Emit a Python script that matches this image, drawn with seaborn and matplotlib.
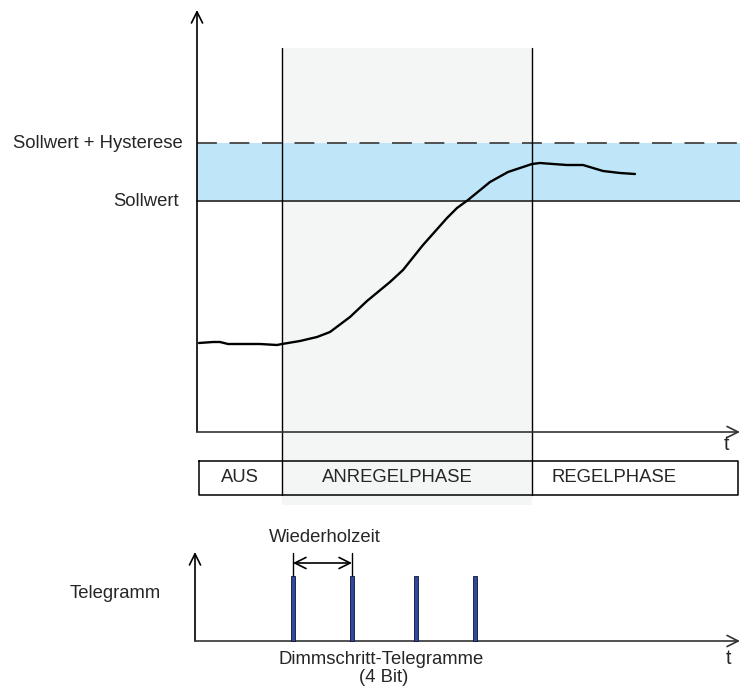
import matplotlib
matplotlib.use("Agg")
import matplotlib.pyplot as plt
import seaborn as sns
import numpy as np

sns.set_theme(style="white")
plt.rcParams['font.family'] = ['Liberation Sans', 'DejaVu Sans']

# all positions in drawing units (x = time, y = level measured downward)
curve_t = [199, 213, 220, 228, 240, 260, 277, 282, 300, 317, 330, 350, 367, 390,
           403, 423, 447, 457, 468, 490, 508, 532, 540, 553, 567, 583, 603, 620, 635]
curve_v = [343, 342, 342, 344, 344, 344, 345, 344, 341, 337, 332, 317, 301, 282,
           270, 245, 218, 208, 200, 182, 172, 164, 163, 164, 165, 165, 171, 173, 174]

setpoint = 201
setpoint_hyst = 143
phase_edges = [199, 282, 532, 738]
phase_names = ["AUS", "ANREGELPHASE", "REGELPHASE"]
phase_label_x = [240, 397, 614]
telegram_t = [293, 352, 416, 475]
level_labels = ["Sollwert + Hysterese", "Sollwert"]

FS = 13.3

fig = plt.figure(figsize=(7.4, 6.88), dpi=100)
ax = fig.add_axes([0, 0, 1, 1])
ax.set_xlim(0, 740)
ax.set_ylim(688, 0)
ax.axis("off")

t0, t_end = 197, 740
axis_y, top_y = 432, 10

# grey area of the start-up phase
ax.fill_between([phase_edges[1], phase_edges[2]], 48, 505, color="#f4f6f5", lw=0, zorder=0)
# hysteresis band
ax.fill_between([t0, t_end], setpoint_hyst, setpoint, color="#bee6f8", lw=0, zorder=1)
ax.plot([t0, t_end], [setpoint, setpoint], color="#333333", lw=1.3, zorder=2)
ax.plot([t0, t_end], [setpoint_hyst, setpoint_hyst], color="#444444", lw=1.3,
        dashes=(11, 7), zorder=2)
ax.text(183, setpoint_hyst, level_labels[0], ha="right", va="center", fontsize=FS)
ax.text(179, setpoint, level_labels[1], ha="right", va="center", fontsize=FS)

# phase boundaries
for x in phase_edges[1:3]:
    ax.plot([x, x], [48, 495], color="black", lw=1.0, zorder=3)

# axes arrows
arrow = dict(arrowstyle="->", color="black", lw=1.2, mutation_scale=20, shrinkA=0, shrinkB=0)
ax.annotate("", xy=(t0, top_y), xytext=(t0, axis_y), arrowprops=arrow, zorder=4)
ax.annotate("", xy=(t_end, axis_y), xytext=(t0, axis_y), arrowprops=dict(arrow, color="#333333"), zorder=4)
ax.text(727, 445, "t", ha="center", va="center", fontsize=FS + 1)

# measured value
sns.lineplot(x=curve_t, y=curve_v, ax=ax, color="black", lw=1.7, sort=False, zorder=5)

# phase bar
box_top, box_bot = 461, 495
ax.plot([phase_edges[0], phase_edges[-1], phase_edges[-1], phase_edges[0], phase_edges[0]],
        [box_top, box_top, box_bot, box_bot, box_top], color="black", lw=1.1, zorder=4)
for name, x in zip(phase_names, phase_label_x):
    ax.text(x, 478, name, ha="center", va="center", fontsize=FS)

# telegram diagram
tg_y0, tg_top, tg_axis = 195, 552, 641
ax.annotate("", xy=(tg_y0, tg_top), xytext=(tg_y0, tg_axis), arrowprops=arrow, zorder=4)
ax.annotate("", xy=(t_end, tg_axis), xytext=(tg_y0, tg_axis), arrowprops=dict(arrow, color="#333333"), zorder=4)
ax.text(728, 659, "t", ha="center", va="center", fontsize=FS + 1)
ax.bar(telegram_t, [576 - tg_axis] * len(telegram_t), bottom=tg_axis, width=4.5,
       color="#2c4a9e", edgecolor="#111133", lw=0.6, zorder=5)
ax.text(115, 593, "Telegramm", ha="center", va="center", fontsize=FS)

# repetition time
for x in telegram_t[:2]:
    ax.plot([x, x], [553, 576], color="black", lw=1.0)
ax.annotate("", xy=(telegram_t[0], 563), xytext=(telegram_t[1], 563),
            arrowprops=dict(arrowstyle="<->", color="black", lw=1.2, mutation_scale=20,
                            shrinkA=0, shrinkB=0))
ax.text(325, 538, "Wiederholzeit", ha="center", va="center", fontsize=FS)
ax.text(381, 659, "Dimmschritt-Telegramme", ha="center", va="center", fontsize=FS)
ax.text(384, 678, "(4 Bit)", ha="center", va="center", fontsize=FS)

fig.savefig("out.png", dpi=100)
